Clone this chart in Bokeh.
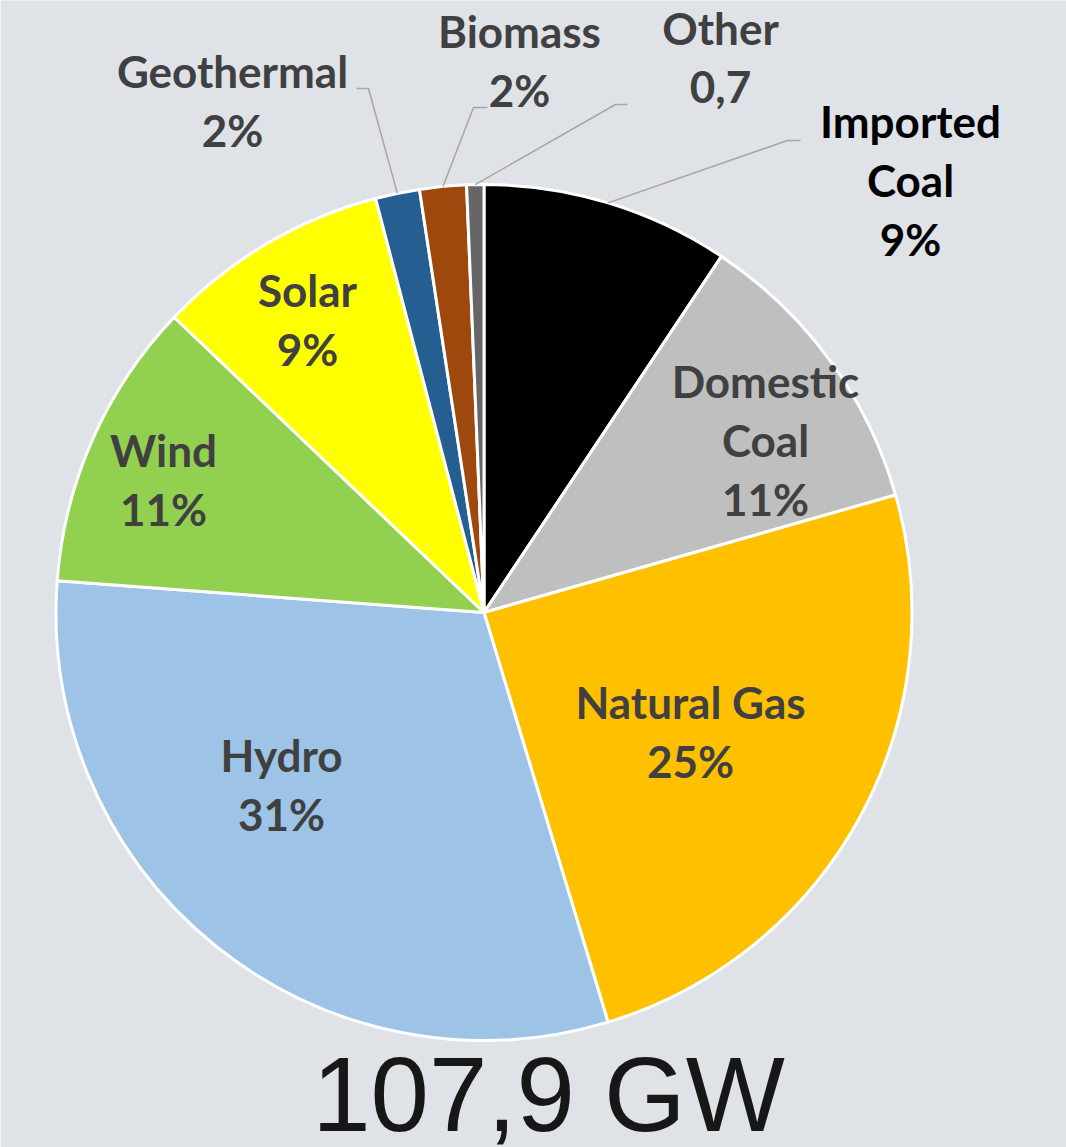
import math
from bokeh.plotting import figure
from bokeh.models import Range1d, ColumnDataSource
from bokeh.core.properties import value
from bokeh.embed import file_html
from bokeh.resources import INLINE

# ---- data (GW) ----
categories = ["Imported Coal", "Domestic Coal", "Natural Gas", "Hydro", "Wind",
              "Solar", "Geothermal", "Biomass", "Other"]
capacity_gw = [10.1, 12.1, 26.7, 33.3, 11.8, 9.5, 1.8, 1.9, 0.7]
label_texts = ["Imported\nCoal\n9%", "Domestic\nCoal\n11%", "Natural Gas\n25%",
               "Hydro\n31%", "Wind\n11%", "Solar\n9%", "Geothermal\n2%",
               "Biomass\n2%", "Other\n0,7"]
total_text = "107,9 GW"

# ---- styles / layout ----
colors = ["#000000", "#bfbfbf", "#ffc000", "#9dc3e6", "#92d050",
          "#ffff00", "#255e91", "#9e480e", "#666666"]
label_colors = ["#000000"] + ["#404040"] * 8
BG = "#dfe2e7"
W, H = 1066, 1147


def X(px):
    return px


def Y(py):
    return H - py


cx, cy, R = X(483.5), Y(612), 428

# label anchors: (center x, first baseline y) in page pixels
label_pos = [(910, 138), (765, 398), (690, 719), (281, 772), (163, 467),
             (307, 307), (232, 88), (519, 48), (720, 45)]
LINE_PITCH = 59
LABEL_SHIFT = 18   # compensation for rendered baseline offset
TOTAL_SHIFT = 38
# leader lines for outside labels: index -> (elbow, end)
leaders = {0: ((787, 140), (800, 140)),
           6: ((368, 88), (356, 88)),
           7: ((473, 107), (487, 107)),
           8: ((615, 104), (627, 104))}

p = figure(width=W, height=H, output_backend="svg", toolbar_location=None,
           x_range=Range1d(0, W), y_range=Range1d(0, H), min_border=0,
           background_fill_color=BG, border_fill_color=BG)
p.axis.visible = False
p.grid.visible = False
p.outline_line_color = None

tot = sum(capacity_gw)
starts, ends, mids = [], [], []
cum = 0.0
for v in capacity_gw:
    a0 = math.pi / 2 - 2 * math.pi * cum / tot
    cum += v
    a1 = math.pi / 2 - 2 * math.pi * cum / tot
    starts.append(a0)
    ends.append(a1)
    mids.append((a0 + a1) / 2)

src = ColumnDataSource(dict(cat=categories, start=starts, end=ends, color=colors))
p.wedge(x=cx, y=cy, radius=R, start_angle="start", end_angle="end",
        direction="clock", fill_color="color", line_color="white",
        line_width=3, source=src)

# leader lines
for i, (elbow, end) in leaders.items():
    sx = cx + R * math.cos(mids[i])
    sy = cy + R * math.sin(mids[i])
    p.line([sx, X(elbow[0]), X(end[0])], [sy, Y(elbow[1]), Y(end[1])],
           line_color="#a6a6a6", line_width=1.5)

# labels
tx, ty, tt, tc = [], [], [], []
for i, lab in enumerate(label_texts):
    lx, ly = label_pos[i]
    for k, line in enumerate(lab.split("\n")):
        tx.append(X(lx))
        ty.append(Y(ly + k * LINE_PITCH - LABEL_SHIFT))
        tt.append(line)
        tc.append(label_colors[i])
p.text(x=tx, y=ty, text=tt, text_color=tc, text_font=value("Lato"),
       text_font_style="bold", text_font_size="44px", text_align="center",
       text_baseline="alphabetic")

p.text(x=[X(548)], y=[Y(1132 - TOTAL_SHIFT)], text=[total_text], text_color="#171717",
       text_font=value("Liberation Sans"), text_font_size="105px",
       text_align="center", text_baseline="alphabetic")

html = file_html(p, INLINE)
open("out.html", "w").write(html)
